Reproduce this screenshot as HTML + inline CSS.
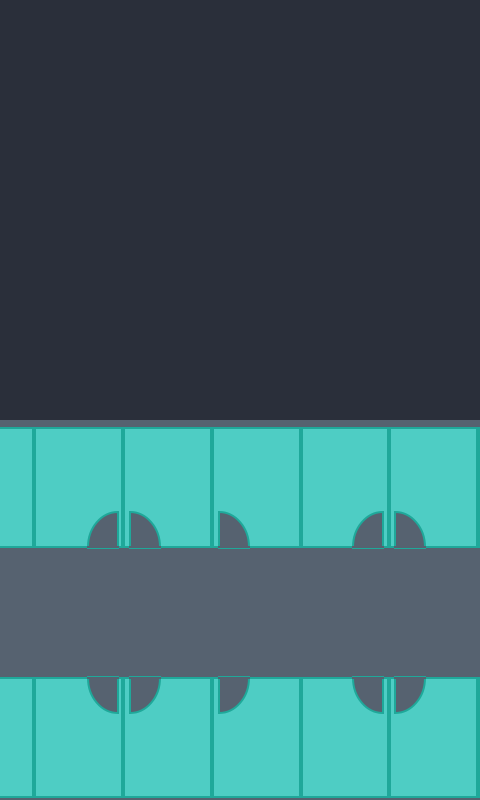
<!DOCTYPE html>
<html><head><meta charset="utf-8"><style>
html,body{margin:0;padding:0;width:480px;height:800px;overflow:hidden;background:#2a2f3a}
svg{display:block}
</style></head><body>
<svg width="480" height="800" viewBox="0 0 480 800">
  <rect x="0" y="0" width="480" height="420" fill="#2a2f3a"/>
  <rect x="0" y="420" width="480" height="380" fill="#566270"/>
  <g id="tiles"></g>
</svg>
<script>
const svgNS='http://www.w3.org/2000/svg';
const g=document.getElementById('tiles');
const cols=[[-10,34],[34,123],[123,212],[212,301],[301,389],[389,478],[478,490]];
const rows=[[428,547,'top'],[678,797,'bottom']];
rows.forEach(r=>{
  cols.forEach((c,i)=>{
    const t=document.createElementNS(svgNS,'rect');
    t.setAttribute('x',c[0]+1);t.setAttribute('y',r[0]);
    t.setAttribute('width',c[1]-c[0]-2);t.setAttribute('height',r[1]-r[0]);
    t.setAttribute('fill','#4ecdc4');t.setAttribute('stroke','#1fa89a');t.setAttribute('stroke-width','2');
    
    
    g.appendChild(t);
  });
});
const notches=[[118,-1],[130,1],[219,1],[383,-1],[395,1]];
const RX=30, RY=35;
rows.forEach(r=>{
  notches.forEach((n,i)=>{
    const cx=n[0], d=n[1];
    const top=r[2]==='top';
    const ey=top?r[1]:r[0];
    const sy=top?ey-RY:ey+RY;
    const ex=cx+d*RX;
    const sweep=(top?(d<0?0:1):(d<0?1:0));
    const p=document.createElementNS(svgNS,'path');
    p.setAttribute('d',`M${cx},${ey+(top?1:-1)} L${cx},${sy} A${RX},${RY} 0 0 ${sweep} ${ex},${ey} L${ex},${ey+(top?1:-1)} Z`);
    p.setAttribute('fill','#566270');p.setAttribute('stroke','#1fa89a');p.setAttribute('stroke-width','2');
    
    
    g.appendChild(p);
    const m=document.createElementNS(svgNS,'rect');
    m.setAttribute('x',Math.min(cx,ex)-1);m.setAttribute('y',ey-1);
    m.setAttribute('width',RX+2);m.setAttribute('height',2);m.setAttribute('fill','#566270');
    
    
    g.appendChild(m);
  });
});
</script>
</body></html>
